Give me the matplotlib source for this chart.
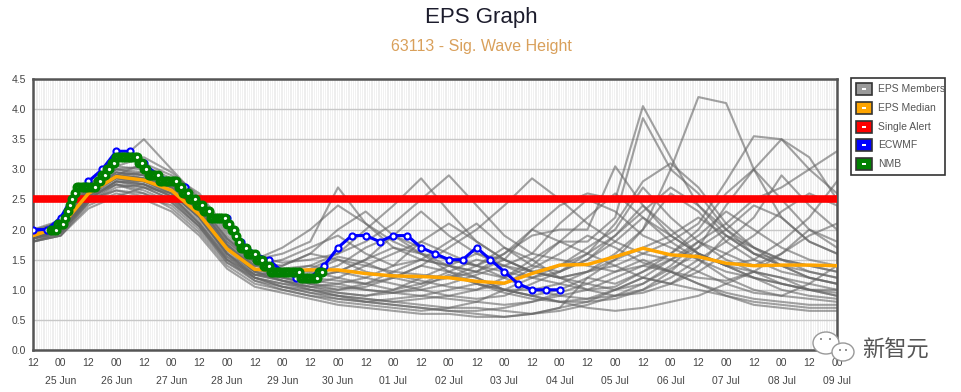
import numpy as np
import matplotlib.pyplot as plt
from matplotlib.patches import Rectangle, Ellipse

plt.rcParams["font.family"] = ["Liberation Sans", "DejaVu Sans"]

# 时间轴：以 25 Jun 00:00 为 0 点的小时数
member_hours = list(range(-12, 337, 12))
ecmwf_hours = list(range(-12, 217, 6))
nmb_hours = list(range(-4, 114))

date_labels = ["25 Jun", "26 Jun", "27 Jun", "28 Jun", "29 Jun", "30 Jun", "01 Jul",
               "02 Jul", "03 Jul", "04 Jul", "05 Jul", "06 Jul", "07 Jul", "08 Jul", "09 Jul"]

# EPS 成员 (每12小时)
eps_members = [
    [1.85, 2.00, 2.55, 2.85, 2.80, 2.60, 2.20, 1.65, 1.30, 1.20, 1.10, 1.05, 1.00, 0.95, 0.90, 0.85, 0.80, 0.75, 0.80, 0.90, 1.00, 1.20, 1.40, 1.30, 1.10, 0.95, 0.85, 0.80, 0.75, 0.75],
    [1.90, 2.05, 2.65, 2.95, 2.90, 2.70, 2.30, 1.70, 1.40, 1.50, 1.70, 1.90, 1.60, 1.40, 1.50, 1.80, 2.10, 1.70, 1.40, 1.30, 1.50, 1.90, 2.40, 2.00, 1.60, 1.40, 1.20, 1.10, 1.00, 0.95],
    [1.80, 1.95, 2.45, 2.70, 2.75, 2.55, 2.10, 1.55, 1.20, 1.05, 0.95, 0.90, 0.85, 0.80, 0.75, 0.70, 0.70, 0.65, 0.60, 0.65, 0.75, 0.90, 1.10, 1.35, 1.60, 1.40, 1.20, 1.00, 0.90, 0.85],
    [2.00, 2.15, 2.80, 3.10, 3.50, 3.00, 2.50, 1.90, 1.50, 1.60, 1.80, 2.70, 2.10, 1.70, 1.50, 1.40, 1.30, 1.20, 1.40, 1.80, 1.80, 2.20, 3.85, 3.00, 2.60, 2.00, 1.70, 1.50, 1.40, 1.30],
    [1.90, 2.05, 2.60, 2.90, 2.85, 2.70, 2.35, 1.80, 1.45, 1.35, 1.30, 1.20, 1.10, 1.00, 1.10, 1.30, 1.50, 1.40, 1.20, 1.10, 1.00, 1.05, 1.30, 1.60, 1.90, 2.30, 2.00, 1.70, 1.50, 1.40],
    [1.85, 2.00, 2.50, 2.80, 2.70, 2.50, 2.05, 1.50, 1.25, 1.30, 1.40, 1.60, 2.00, 2.40, 2.85, 2.30, 1.80, 1.50, 1.30, 1.20, 1.30, 1.50, 1.70, 1.90, 2.20, 1.90, 1.60, 1.40, 1.30, 1.20],
    [1.95, 2.10, 2.70, 3.00, 2.95, 2.80, 2.40, 1.75, 1.35, 1.20, 1.10, 1.00, 1.05, 1.20, 1.40, 1.30, 1.20, 1.00, 0.90, 1.00, 1.20, 1.50, 2.00, 3.00, 4.20, 4.10, 3.00, 2.20, 1.80, 1.60],
    [1.90, 2.00, 2.60, 2.90, 3.10, 2.90, 2.60, 2.00, 1.50, 1.30, 1.20, 1.30, 1.50, 1.70, 1.60, 1.40, 1.30, 1.50, 2.00, 2.40, 2.60, 2.50, 4.05, 3.20, 2.40, 1.90, 1.60, 1.50, 1.40, 1.30],
    [1.80, 1.90, 2.35, 2.55, 2.70, 2.60, 2.20, 1.60, 1.20, 1.05, 1.00, 0.95, 0.90, 1.00, 1.20, 1.40, 1.60, 1.50, 1.30, 1.20, 1.30, 1.40, 1.60, 1.80, 2.10, 2.80, 3.55, 3.50, 3.00, 2.60],
    [1.85, 1.95, 2.50, 2.65, 2.55, 2.40, 2.00, 1.45, 1.20, 1.10, 1.00, 0.90, 0.80, 0.75, 0.70, 0.65, 0.60, 0.55, 0.60, 0.70, 1.20, 1.10, 1.30, 1.50, 1.80, 2.10, 2.50, 2.70, 3.00, 3.30],
    [1.95, 2.05, 2.65, 2.90, 2.80, 2.65, 2.30, 1.75, 1.40, 1.30, 1.25, 1.40, 1.70, 1.90, 1.70, 1.50, 1.40, 1.60, 1.90, 2.00, 2.00, 3.05, 2.40, 1.90, 1.60, 1.40, 1.30, 1.20, 1.10, 1.00],
    [1.90, 2.10, 2.75, 3.05, 3.00, 2.80, 2.40, 1.85, 1.45, 1.40, 1.60, 2.00, 2.30, 1.90, 1.60, 1.30, 1.10, 1.00, 1.00, 1.10, 1.30, 1.60, 2.00, 2.60, 2.30, 1.80, 1.50, 1.30, 1.20, 1.10],
    [1.85, 2.00, 2.55, 2.75, 2.60, 2.35, 1.95, 1.40, 1.10, 1.00, 0.90, 0.80, 0.75, 0.70, 0.65, 0.70, 0.80, 1.00, 1.20, 1.40, 1.70, 2.00, 2.70, 2.20, 1.80, 1.50, 1.30, 1.10, 1.00, 0.90],
    [1.90, 2.05, 2.60, 2.85, 2.80, 2.65, 2.25, 1.70, 1.35, 1.25, 1.20, 1.15, 1.10, 1.20, 1.40, 1.70, 2.00, 2.40, 2.85, 2.50, 2.10, 1.80, 1.60, 1.50, 1.70, 2.00, 2.40, 2.20, 1.80, 1.60],
    [1.80, 1.95, 2.50, 2.80, 2.75, 2.55, 2.10, 1.55, 1.25, 1.15, 1.05, 1.00, 1.10, 1.30, 1.50, 1.40, 1.20, 1.00, 0.90, 0.80, 0.80, 0.85, 1.00, 1.20, 1.50, 1.80, 2.20, 2.90, 2.40, 2.00],
    [1.95, 2.15, 2.75, 3.05, 3.20, 2.95, 2.55, 1.95, 1.55, 1.45, 1.50, 1.60, 1.80, 2.10, 2.50, 2.90, 2.40, 1.90, 1.60, 1.50, 1.40, 1.30, 1.40, 1.60, 2.00, 2.60, 3.00, 2.50, 2.00, 1.70],
    [1.85, 2.00, 2.50, 2.75, 2.70, 2.50, 2.10, 1.50, 1.20, 1.10, 1.05, 1.10, 1.20, 1.10, 1.00, 0.90, 0.85, 0.90, 1.10, 1.30, 1.60, 1.90, 2.30, 2.70, 2.40, 2.00, 1.60, 1.40, 1.20, 1.10],
    [1.90, 2.00, 2.60, 2.90, 2.85, 2.70, 2.35, 1.80, 1.40, 1.30, 1.30, 1.50, 1.40, 1.30, 1.25, 1.20, 1.30, 1.60, 2.00, 1.80, 1.60, 1.40, 1.20, 1.10, 1.30, 1.60, 1.90, 2.30, 2.60, 2.40],
    [1.80, 1.90, 2.45, 2.65, 2.60, 2.45, 2.05, 1.50, 1.15, 1.00, 0.90, 0.85, 0.80, 0.85, 0.90, 1.00, 1.10, 1.00, 0.90, 0.80, 0.70, 0.65, 0.70, 0.80, 0.90, 1.10, 1.30, 1.20, 1.00, 0.90],
    [2.00, 2.10, 2.70, 3.00, 3.05, 2.85, 2.45, 1.85, 1.50, 1.70, 2.00, 2.40, 2.10, 1.80, 1.60, 1.50, 1.40, 1.30, 1.20, 1.30, 1.50, 1.80, 2.20, 1.90, 1.60, 1.40, 1.50, 1.80, 2.20, 2.80],
    [1.85, 2.00, 2.55, 2.80, 2.75, 2.60, 2.20, 1.60, 1.25, 1.15, 1.10, 1.20, 1.40, 1.60, 1.80, 1.60, 1.40, 1.20, 1.00, 0.90, 0.85, 0.90, 1.00, 1.30, 1.70, 2.40, 3.00, 3.50, 3.20, 2.50],
    [1.90, 2.05, 2.65, 2.90, 2.85, 2.70, 2.30, 1.70, 1.30, 1.15, 1.00, 0.90, 0.85, 0.80, 0.85, 0.90, 1.00, 1.20, 1.50, 1.80, 2.20, 2.60, 2.20, 1.80, 1.50, 1.20, 1.00, 0.90, 0.85, 0.80],
    [1.85, 1.95, 2.50, 2.80, 2.80, 2.60, 2.20, 1.60, 1.25, 1.20, 1.15, 1.10, 1.00, 0.95, 1.00, 1.10, 1.25, 1.40, 1.30, 1.20, 1.10, 1.00, 1.10, 1.40, 1.80, 1.60, 1.40, 1.60, 2.00, 1.80],
    [1.95, 2.10, 2.70, 3.00, 2.90, 2.75, 2.40, 1.85, 1.45, 1.35, 1.40, 1.30, 1.20, 1.40, 1.80, 2.10, 1.80, 1.50, 1.30, 1.40, 1.60, 2.10, 2.80, 3.10, 2.70, 2.10, 1.70, 1.50, 1.30, 1.20],
    [1.80, 1.90, 2.40, 2.60, 2.50, 2.30, 1.90, 1.35, 1.05, 0.95, 0.85, 0.75, 0.70, 0.65, 0.60, 0.60, 0.55, 0.55, 0.60, 0.70, 0.80, 1.00, 1.20, 1.10, 1.00, 0.90, 0.80, 0.75, 0.70, 0.70],
    [1.90, 2.05, 2.60, 2.95, 2.90, 2.75, 2.35, 1.75, 1.35, 1.25, 1.20, 1.30, 1.50, 1.90, 2.30, 1.90, 1.60, 1.40, 1.60, 2.10, 2.50, 2.30, 1.90, 1.70, 1.50, 1.30, 1.20, 1.10, 1.00, 1.00],
    [1.85, 1.95, 2.45, 2.75, 2.65, 2.45, 2.05, 1.45, 1.15, 1.05, 0.95, 0.85, 0.80, 0.75, 0.70, 0.65, 0.65, 0.70, 0.80, 0.95, 1.10, 1.30, 1.50, 1.30, 1.10, 0.90, 0.75, 0.70, 0.65, 0.65],
    [1.90, 2.05, 2.60, 2.85, 2.75, 2.55, 2.15, 1.60, 1.30, 1.40, 1.60, 1.50, 1.30, 1.20, 1.10, 1.20, 1.40, 1.70, 1.50, 1.20, 1.00, 0.90, 0.95, 1.10, 1.40, 1.90, 1.70, 1.40, 1.20, 1.10],
    [1.85, 2.00, 2.55, 2.90, 2.95, 2.75, 2.30, 1.70, 1.30, 1.15, 1.05, 0.95, 0.90, 0.95, 1.05, 1.25, 1.10, 0.95, 0.85, 0.80, 0.85, 1.00, 1.20, 1.50, 1.30, 1.10, 0.95, 0.90, 1.10, 1.40],
    [1.95, 2.10, 2.65, 2.95, 2.85, 2.65, 2.25, 1.70, 1.35, 1.25, 1.35, 1.55, 1.45, 1.25, 1.15, 1.05, 1.00, 1.10, 1.35, 1.60, 1.90, 1.70, 1.45, 1.30, 1.20, 1.15, 1.30, 1.60, 1.90, 2.10],
]

eps_median = [1.90, 2.05, 2.60, 2.88, 2.82, 2.65, 2.25, 1.68, 1.34, 1.32, 1.33, 1.33, 1.27, 1.23, 1.22,
              1.20, 1.14, 1.11, 1.27, 1.41, 1.42, 1.55, 1.69, 1.58, 1.55, 1.44, 1.40, 1.41, 1.41, 1.40]

single_alert = 2.5

ecmwf = [2.0, 2.0, 2.2, 2.6, 2.8, 3.0, 3.3, 3.3, 3.1, 2.9, 2.8, 2.7, 2.4, 2.2, 2.2, 1.8, 1.6, 1.5, 1.3, 1.2,
         1.2, 1.4, 1.7, 1.9, 1.9, 1.8, 1.9, 1.9, 1.7, 1.6, 1.5, 1.5, 1.7, 1.5, 1.3, 1.1, 1.0, 1.0, 1.0]

nmb = [2.0, 2.0, 2.0, 2.1, 2.1, 2.1, 2.2, 2.3, 2.4, 2.5, 2.6,
       2.7, 2.7, 2.7, 2.7, 2.7, 2.7, 2.7, 2.7, 2.7,
       2.8, 2.8, 2.9, 2.9, 3.0, 3.0, 3.1, 3.1,
       3.2, 3.2, 3.2, 3.2, 3.2, 3.2, 3.2, 3.2, 3.2, 3.2,
       3.1, 3.1, 3.0, 3.0,
       2.9, 2.9, 2.9, 2.9, 2.9,
       2.8, 2.8, 2.8, 2.8, 2.8, 2.8, 2.8, 2.8,
       2.7, 2.7, 2.6, 2.6, 2.6, 2.5, 2.5, 2.5, 2.4, 2.4, 2.4, 2.3, 2.3, 2.3,
       2.2, 2.2, 2.2, 2.2, 2.2, 2.2, 2.2,
       2.1, 2.1, 2.0, 2.0, 1.9, 1.8, 1.7, 1.7, 1.7, 1.6, 1.6, 1.6, 1.6, 1.5, 1.5, 1.5, 1.4, 1.4, 1.4,
       1.3, 1.3, 1.3, 1.3, 1.3, 1.3, 1.3, 1.3, 1.3, 1.3, 1.3, 1.3, 1.3,
       1.2, 1.2, 1.2, 1.2, 1.2, 1.2, 1.2, 1.2,
       1.3, 1.3]

legend_names = ["EPS Members", "EPS Median", "Single Alert", "ECWMF", "NMB"]
legend_colors = ["#9a9a9a", "#ffa500", "#ff0000", "#0000ff", "#008000"]

W, H = 962, 392
fig = plt.figure(figsize=(W / 100, H / 100), dpi=100)


def fx(x):
    return x / W


def fy(y):
    return 1 - y / H


ax = fig.add_axes([fx(33), fy(350), fx(837) - fx(33), fy(79) - fy(350)])
ax.set_facecolor("#ebebeb")
ax.set_xlim(-12, 336)
ax.set_ylim(0, 4.5)

# 背景竖线
ax.vlines(np.arange(-12, 337, 1), 0, 4.5, colors="white", linewidth=1.0, zorder=0)
ax.set_yticks(np.arange(0, 4.51, 0.5))
ax.grid(axis="y", color="#c8c8c8", linewidth=1, zorder=1)
ax.set_axisbelow(True)

for m in eps_members:
    ax.plot(member_hours, m, color="#666666", alpha=0.6, linewidth=1.5, zorder=2)

ax.plot(member_hours, eps_median, color="#ffa500", linewidth=2.5, zorder=4)
ax.axhline(single_alert, color="#ff0000", linewidth=5.5, zorder=3)

ax.plot(ecmwf_hours, ecmwf, color="#0000ff", linewidth=2.2, marker="o", markersize=4.4,
        markerfacecolor="white", markeredgecolor="#0000ff", markeredgewidth=1.5, zorder=5)
ax.plot(nmb_hours, nmb, color="#008000", linewidth=3, marker="o", markersize=4.8,
        markerfacecolor="white", markeredgecolor="#008000", markeredgewidth=2.4, zorder=6)

# 刻度
tick_pos = list(range(-12, 337, 12))
tick_lab = []
for h in tick_pos:
    if h % 24 == 0:
        tick_lab.append("00\n" + date_labels[h // 24])
    else:
        tick_lab.append("12")
ax.set_xticks(tick_pos)
ax.set_xticklabels(tick_lab, fontsize=7.5, color="#444444", linespacing=1.9)
ax.set_yticklabels([f"{v:.1f}" for v in np.arange(0, 4.51, 0.5)], fontsize=7.5, color="#444444")
ax.tick_params(axis="both", length=0)
ax.tick_params(axis="x", pad=6)
ax.tick_params(axis="y", pad=5)
for s in ax.spines.values():
    s.set_color("#555555")
    s.set_linewidth(1.8)

# 标题
fig.text(0.5, fy(17), "EPS Graph", ha="center", va="center", fontsize=16, color="#1c1c2c")
fig.text(0.5, fy(47), "63113 - Sig. Wave Height", ha="center", va="center", fontsize=11.5, color="#d9a05b")

# 图例（手动绘制）
fig.add_artist(Rectangle((fx(851), fy(175)), fx(945) - fx(851), fy(78) - fy(175),
                         transform=fig.transFigure, facecolor="white", edgecolor="#333333", linewidth=1.2))
row_y = [89, 108, 127, 145, 164]
for name, col, yy in zip(legend_names, legend_colors, row_y):
    fig.add_artist(Rectangle((fx(856), fy(yy + 6)), fx(872) - fx(856), fy(yy - 6) - fy(yy + 6),
                             transform=fig.transFigure, facecolor=col, edgecolor="#333333", linewidth=1.2))
    fig.add_artist(Rectangle((fx(862), fy(yy + 0.8)), fx(866) - fx(862), fy(yy - 0.8) - fy(yy + 0.8),
                             transform=fig.transFigure, facecolor="white", edgecolor="none"))
    fig.text(fx(878), fy(yy), name, ha="left", va="center", fontsize=7.5, color="#555555")

# 水印
fig.add_artist(Ellipse((fx(826), fy(343)), 26 / W, 22 / H, transform=fig.transFigure,
                       facecolor="white", edgecolor="#999999", linewidth=1))
fig.add_artist(Ellipse((fx(843), fy(352)), 22 / W, 18 / H, transform=fig.transFigure,
                       facecolor="white", edgecolor="#999999", linewidth=1))
for ex, ey in [(821, 339), (830, 339), (840, 350), (846, 350)]:
    fig.add_artist(Ellipse((fx(ex), fy(ey)), 2 / W, 2 / H, transform=fig.transFigure,
                           facecolor="#777777", edgecolor="none"))
fig.text(fx(895), fy(350), "新智元", ha="center", va="center", fontsize=16, color="#555555",
         family=["Noto Sans CJK SC", "DejaVu Sans"])

plt.savefig("out.png", dpi=100)
